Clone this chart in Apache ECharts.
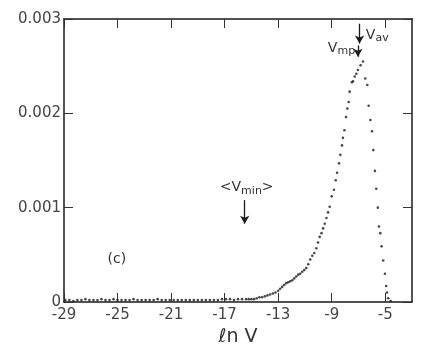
<!DOCTYPE html>
<html>
<head>
<meta charset="utf-8">
<script src="https://cdn.jsdelivr.net/npm/echarts@6/dist/echarts.min.js"></script>
<style>
  html,body{margin:0;padding:0;background:#fff;}
  #chart{width:432px;height:356px;}
</style>
</head>
<body>
<div id="chart"></div>
<script>
// ln V on x, probability density on y
var lnV = [
  -28.9,-28.6,-28.3,-28.0,-27.7,-27.4,-27.1,-26.8,-26.5,-26.2,-25.9,-25.6,-25.3,-25.0,-24.7,-24.4,
  -24.1,-23.8,-23.5,-23.2,-22.9,-22.6,-22.3,-22.0,-21.7,-21.4,-21.1,-20.8,-20.5,-20.2,-19.9,-19.6,
  -19.3,-19.0,-18.7,-18.4,-18.1,-17.8,-17.5,-17.2,-16.9,-16.6,-16.3,-16.0,-15.7,-15.4,-15.2,
  -15.0,-14.8,-14.6,-14.4,-14.2,-14.0,-13.8,-13.6,-13.4,-13.2,-13.0,-12.85,-12.7,-12.55,-12.4,-12.25,
  -12.1,-11.95,-11.8,-11.65,-11.5,-11.35,-11.2,-11.05,-10.9,-10.75,-10.6,-10.45,-10.3,-10.15,-10.02,-9.9,
  -9.76,-9.64,-9.52,-9.39,-9.27,-9.15,-9.0,-8.83,-8.7,-8.6,-8.45,-8.35,-8.23,-8.16,-8.05,-7.93,
  -7.83,-7.73,-7.66,-7.49,-7.41,-7.28,-7.16,-7.04,-6.84,-6.66,
  -6.49,-6.34,-6.24,-6.11,-5.99,-5.89,-5.77,-5.67,-5.55,-5.47,-5.37,-5.27,-5.15,-5.02,-4.93,-4.87,-4.78,-4.6
]
var density = [
  0.00002,0.00002,0.00001,0.00002,0.00002,0.00003,0.00002,0.00002,0.00002,0.00003,0.00002,0.00002,0.00003,0.00002,0.00002,0.00002,
  0.00002,0.00003,0.00002,0.00002,0.00002,0.00002,0.00002,0.00003,0.00002,0.00002,0.00002,0.00002,0.00002,0.00002,0.00002,0.00002,
  0.00002,0.00002,0.00002,0.00002,0.00002,0.00002,0.00002,0.00003,0.00003,0.00003,0.00002,0.00003,0.00003,0.00003,0.00003,
  0.00003,0.00003,0.00004,0.00005,0.00005,0.00006,0.00007,0.00008,0.00009,0.0001,0.00012,0.00014,0.00016,0.00018,0.0002,0.00021,
  0.00022,0.00023,0.00025,0.00027,0.00029,0.0003,0.00032,0.00034,0.00036,0.0004,0.00045,0.00049,0.00052,0.00057,0.00063,0.00069,
  0.00073,0.00078,0.00083,0.00089,0.00095,0.00101,0.00112,0.00119,0.00129,0.00137,0.00147,0.00156,0.00166,0.00174,0.00182,0.00196,
  0.00205,0.00212,0.00223,0.00233,0.00234,0.00239,0.00242,0.00246,0.00251,0.00255,
  0.00237,0.0023,0.00208,0.00193,0.00181,0.00161,0.00139,0.0012,0.001,0.0008,0.00073,0.00059,0.00044,0.0003,0.00017,0.0001,0.00004,0.00001
]
var xTicks = [-29,-25,-21,-17,-13,-9,-5]
var yTicks = [0,0.001,0.002,0.003]

var points = lnV.map(function(v,i){ return [v, density[i]] })
var font = 'DejaVu Sans'
var ink = '#1a1a1a'

function frameAxis(pos, showLabel){
  var isX = pos==='bottom' || pos==='top'
  return {
    type:'value',
    position:pos,
    min: isX ? -29 : 0,
    max: isX ? -3 : 0.003,
    interval: isX ? undefined : 0.001,
    splitLine:{show:false},
    axisLine:{show:true, onZero:false, lineStyle:{color:ink, width:1.5}},
    axisTick:{show:true, inside:true, length:9, lineStyle:{color:'#333', width:1},
      customValues: isX ? xTicks : yTicks},
    axisLabel:{show:showLabel, color:'#444', fontFamily:font, fontSize:15, margin:isX?6:3,
      customValues: isX ? xTicks : yTicks,
      formatter:function(v){ return String(v) }},
    name: pos==='bottom' ? 'ℓn V' : '',
    nameLocation:'middle',
    nameGap:24,
    nameTextStyle:{color:'#333', fontFamily:font, fontSize:19}
  }
}

var option = {
  animation:false,
  backgroundColor:'#fff',
  grid:{left:64, top:19, right:20, bottom:54},
  xAxis:[frameAxis('bottom',true), frameAxis('top',false)],
  yAxis:[frameAxis('left',true), frameAxis('right',false)],
  series:[{
    type:'scatter',
    data:points,
    symbol:'circle',
    symbolSize:2.6,
    itemStyle:{color:ink},
    markLine:{
      silent:true,
      symbol:['none','arrow'],
      symbolSize:[7,8],
      label:{show:false},
      lineStyle:{color:ink, width:1.3, type:'solid'},
      data:[
        [{coord:[-15.5,0.00108]},{coord:[-15.5,0.00083]}],
        [{coord:[-6.92,0.00295]},{coord:[-6.92,0.00274]}],
        [{coord:[-7.04,0.00272]},{coord:[-7.04,0.0026]}]
      ]
    },
    markPoint:{
      silent:true,
      symbolSize:0,
      label:{show:true, color:'#333', fontFamily:font, fontSize:14,
        rich:{s:{fontSize:11, fontFamily:font, color:'#333', padding:[6,0,0,0]}}},
      data:[
        {coord:[-25.05,0.00045], label:{formatter:'(c)', position:'inside'}},
        {coord:[-15.35,0.00121], label:{formatter:'<V{s|min}>', position:'inside'}},
        {coord:[-7.25,0.00269], label:{formatter:'V{s|mp}', position:'left', distance:0}},
        {coord:[-6.45,0.00283], label:{formatter:'V{s|av}', position:'right', distance:0}}
      ]
    }
  }]
}

var myChart = echarts.init(document.getElementById('chart'))
myChart.setOption(option)
window.addEventListener('resize',function(){ myChart.resize() })
</script>
</body>
</html>
